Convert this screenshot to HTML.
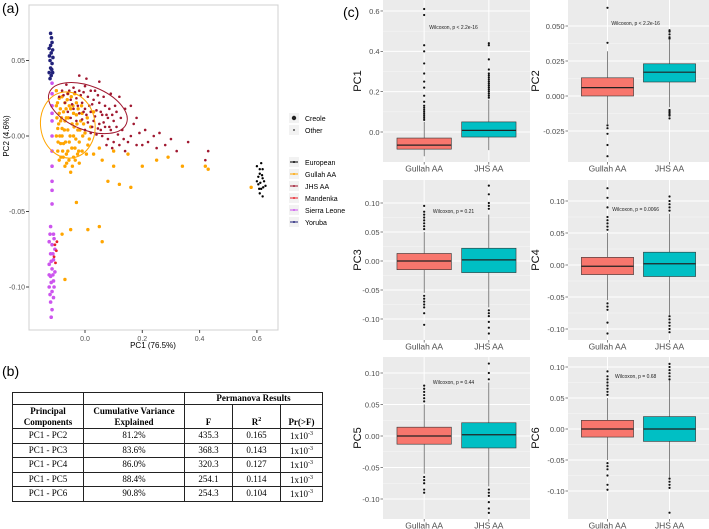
<!DOCTYPE html>
<html><head><meta charset="utf-8"><style>
html,body{margin:0;padding:0;background:#fff;}
body{width:709px;height:529px;overflow:hidden;position:relative;font-family:"Liberation Sans",sans-serif;}
table{border-collapse:collapse;font-family:"Liberation Serif",serif;font-size:9px;position:absolute;left:12px;top:392px;width:311px;}
td{border:1px solid #222;text-align:center;padding:0;height:13.5px;line-height:11px;}
th{border:1px solid #222;font-weight:bold;padding:0;line-height:11px;}
.lbl{position:absolute;font-size:14px;}
</style></head><body>
<div class="lbl" style="left:2px;top:0px;">(a)</div>
<div class="lbl" style="left:2px;top:363px;">(b)</div>
<div class="lbl" style="left:343px;top:4px;">(c)</div>
<svg id="sc" width="345" height="360" style="position:absolute;left:0;top:0"></svg>
<svg id="bx" width="360" height="529" style="position:absolute;left:349px;top:0"></svg>
<table>
<tr style="height:12px"><th style="height:11px"></th><th></th><th colspan="3">Permanova Results</th></tr>
<tr><th style="height:23px;width:70px">Principal<br>Components</th><th style="width:100px">Cumulative Variance<br>Explained</th><th style="width:47px;vertical-align:bottom">F</th><th style="width:47px;vertical-align:bottom">R<sup style="font-size:6px">2</sup></th><th style="vertical-align:bottom">Pr(&gt;F)</th></tr>
<tr><td>PC1 - PC2</td><td>81.2%</td><td>435.3</td><td>0.165</td><td>1x10<sup style="font-size:6px">-3</sup></td></tr>
<tr><td>PC1 - PC3</td><td>83.6%</td><td>368.3</td><td>0.143</td><td>1x10<sup style="font-size:6px">-3</sup></td></tr>
<tr><td>PC1 - PC4</td><td>86.0%</td><td>320.3</td><td>0.127</td><td>1x10<sup style="font-size:6px">-3</sup></td></tr>
<tr><td>PC1 - PC5</td><td>88.4%</td><td>254.1</td><td>0.114</td><td>1x10<sup style="font-size:6px">-3</sup></td></tr>
<tr><td>PC1 - PC6</td><td>90.8%</td><td>254.3</td><td>0.104</td><td>1x10<sup style="font-size:6px">-3</sup></td></tr>
</table>
<script>
const NS="http://www.w3.org/2000/svg";
function mk(p,t,a){const e=document.createElementNS(NS,t);for(const k in a)e.setAttribute(k,a[k]);p.appendChild(e);return e;}
// ---------- scatter data ----------
const xTicks=[0,0.2,0.4,0.6];
const xTickLabels=["0.0","0.2","0.4","0.6"];
const yTicks=[0.05,0,-0.05,-0.1];
const yTickLabels=["0.05","0.00","-0.05","-0.10"];
const groups=["European","Gullah AA","JHS AA","Mandenka","Sierra Leone","Yoruba"];
const groupColors=["#000000","#ffa500","#a01830","#e8202a","#cc55ee","#22227a"];
const european=[[0.6,-0.02],[0.61,-0.025],[0.62,-0.028],[0.605,-0.032],[0.615,-0.035],[0.625,-0.03],[0.61,-0.038],[0.62,-0.022],[0.6,-0.03],[0.63,-0.033],[0.615,-0.018],[0.62,-0.04],[0.605,-0.027],[0.612,-0.031],[0.618,-0.026],[0.608,-0.035],[0.622,-0.034],[0.61,-0.022]];
const gullah=[[-0.1,0.02],[-0.09,0.015],[-0.085,0.01],[-0.08,0.005],[-0.08,0],[-0.075,-0.005],[-0.07,0.022],[-0.065,0.012],[-0.06,0.004],[-0.055,-0.004],[-0.05,0.018],[-0.045,0.008],[-0.04,0],[-0.035,-0.008],[-0.03,0.014],[-0.025,0.004],[-0.02,-0.004],[-0.015,0.01],[-0.01,-0.01],[0,0.002],[0.01,-0.006],[0.02,0.006],[-0.095,-0.01],[-0.09,-0.016],[-0.07,-0.02],[-0.05,-0.024],[-0.02,-0.018],[0.03,-0.012],[0.06,-0.016],[0.1,-0.02],[0.08,-0.03],[0.12,-0.032],[0.16,-0.034],[0.2,-0.02],[0.25,-0.016],[0.29,-0.014],[0.34,-0.02],[0.42,-0.02],[0.43,-0.022],[0.58,-0.034],[0.05,-0.008],[0.1,-0.01],[0.15,-0.012],[0.03,0.016],[-0.06,0.028],[-0.08,0.026],[-0.04,-0.014],[-0.03,-0.044],[-0.05,-0.062],[0.01,-0.062],[0.05,-0.06],[0.06,-0.07],[-0.08,-0.065],[-0.07,-0.095],[-0.095,0.005],[-0.1,0.0],[-0.09,0.025],[-0.07,0.01],[-0.06,-0.01],[-0.04,0.015],[-0.075,0.016],[-0.055,0.02],[-0.085,-0.005],[-0.065,-0.012],[-0.03,0.022],[-0.01,0.015],
[-0.098,0.012],[-0.092,0.008],[-0.088,0.0],[-0.086,0.018],[-0.082,0.012],[-0.078,-0.01],[-0.072,0.004],[-0.068,-0.004],[-0.066,0.018],[-0.062,0.024],[-0.058,0.012],[-0.052,0.0],[-0.048,0.026],[-0.046,-0.008],[-0.042,0.02],[-0.038,0.006],[-0.036,0.028],[-0.032,-0.002],[-0.028,0.008],[-0.024,0.018],[-0.022,-0.01],[-0.018,0.004],[-0.012,0.02],[-0.008,0.0],[-0.005,0.008],[0.005,-0.012],[0.008,0.012],[0.015,-0.002],[-0.094,-0.004],[-0.084,-0.014],[-0.076,-0.014],[-0.064,-0.018],[-0.056,-0.016],[-0.044,-0.02],[-0.034,-0.016],[-0.026,-0.012],[-0.1,0.03],[-0.096,0.022]];
const jhs=[[-0.08,0.03],[-0.06,0.028],[-0.04,0.032],[-0.02,0.03],[0,0.033],[0.02,0.03],[-0.07,0.022],[-0.05,0.024],[-0.03,0.025],[-0.01,0.022],[0.01,0.026],[0.03,0.024],[0.05,0.022],[0.07,0.02],[-0.06,0.016],[-0.04,0.018],[-0.02,0.015],[0,0.018],[0.02,0.016],[0.04,0.017],[0.06,0.014],[0.08,0.012],[0.1,0.01],[-0.03,0.01],[-0.01,0.011],[0.01,0.009],[0.03,0.01],[0.05,0.008],[0.07,0.006],[0.09,0.004],[0.11,0.006],[0.13,0.004],[0,0.004],[0.02,0.002],[0.04,0.001],[0.06,0],[0.08,-0.002],[0.1,-0.004],[0.12,-0.006],[0.15,-0.004],[0.17,0.008],[0.19,0.002],[0.2,-0.006],[0.22,-0.004],[0.24,0],[0.25,-0.008],[0.28,-0.006],[0.3,-0.002],[0.36,-0.004],[0.43,-0.01],[0.42,-0.016],[0.14,0.018],[0.16,0.02],[0.12,0.026],[0.05,0.036],[-0.02,0.04],[0.09,0.028],[0.11,0.016],[0.18,0.012],[-0.09,0.026],[-0.05,0.012],[0.015,0.02],[0.035,0.013],[-0.015,0.027],[0.065,0.026],[0.085,0.018],
[-0.075,0.027],[-0.055,0.03],[-0.045,0.021],[-0.035,0.029],[-0.025,0.02],[-0.005,0.029],[0.005,0.014],[0.025,0.021],[0.045,0.027],[0.055,0.016],[0.075,0.014],[0.095,0.014],[0.105,0.02],[0.115,0.001],[0.125,0.012],[0.135,-0.002],[0.045,0.005],[0.065,0.009],[0.085,0.006],[0.025,0.006],[-0.005,0.016],[0.035,0.03],[0.055,0.004],[0.075,-0.006],[0.095,-0.008],[0.14,-0.01],[0.16,0.0],[0.18,-0.006],[0.21,0.004],[0.26,0.002],[0.32,-0.01],[0.005,0.038],[-0.065,0.034]];
const mandenka=[[-0.105,-0.072],[-0.1,-0.076],[-0.108,-0.08],[-0.098,-0.07],[-0.103,-0.084]];
const sierra=[[-0.115,0.035],[-0.115,0.028],[-0.115,0.02],[-0.115,0.015],[-0.115,0.01],[-0.115,0.0],[-0.115,-0.01],[-0.115,-0.02],[-0.115,-0.03],[-0.115,-0.036],[-0.115,-0.045],[-0.12,-0.06],[-0.11,-0.065],[-0.125,-0.07],[-0.115,-0.072],[-0.105,-0.075],[-0.12,-0.078],[-0.11,-0.082],[-0.125,-0.085],[-0.115,-0.088],[-0.105,-0.09],[-0.12,-0.093],[-0.11,-0.096],[-0.125,-0.1],[-0.115,-0.103],[-0.11,-0.107],[-0.12,-0.11],[-0.115,-0.115],[-0.118,-0.12],[-0.108,-0.068],[-0.122,-0.065],[-0.112,-0.092],[-0.118,-0.083],[-0.108,-0.1],[-0.122,-0.105],[-0.112,-0.078],[-0.125,-0.092],[-0.118,-0.097]];
const yoruba=[[-0.12,0.068],[-0.115,0.062],[-0.125,0.058],[-0.118,0.055],[-0.122,0.05],[-0.115,0.048],[-0.12,0.045],[-0.125,0.042],[-0.118,0.04],[-0.112,0.052],[-0.122,0.038],[-0.116,0.044],[-0.12,0.06],[-0.113,0.057],[-0.124,0.053],[-0.117,0.065],[-0.113,0.042]];
const ellipses=[{g:2,cx:0.01,cy:0.0185,rx:0.145,ry:0.0145,rot:22},{g:1,cx:-0.06,cy:0.0073,rx:0.095,ry:0.022,rot:-8}];
const sc=document.getElementById('sc');
const X0=29,X1=278,Y0=5,Y1=330;
function sx(v){return 85+v/0.2*57.3;}
function sy(v){return 136-v/0.05*75.5;}
const sp=mk(sc,'rect',{x:X0,y:Y0,width:X1-X0,height:Y1-Y0,fill:'#fff',stroke:'#d0d0d0','stroke-width':1});


xTicks.forEach((t,i)=>{mk(sc,'line',{x1:sx(t),x2:sx(t),y1:Y1,y2:Y1+3,stroke:'#444'});const tx=mk(sc,'text',{x:sx(t),y:Y1+11,'font-size':7,'text-anchor':'middle',fill:'#555'});tx.textContent=xTickLabels[i];

});
yTicks.forEach((t,i)=>{mk(sc,'line',{x1:X0-3,x2:X0,y1:sy(t),y2:sy(t),stroke:'#444'});const tx=mk(sc,'text',{x:X0-4,y:sy(t)+2.5,'font-size':7,'text-anchor':'end',fill:'#555'});tx.textContent=yTickLabels[i];

});
const xt=mk(sc,'text',{x:153,y:348,'font-size':8,'text-anchor':'middle'});xt.textContent='PC1 (76.5%)';


const yt=mk(sc,'text',{x:0,y:0,'font-size':8,'text-anchor':'middle',transform:'translate(9,136) rotate(-90)'});yt.textContent='PC2 (4.6%)';


function plot(arr,gi,r){arr.forEach(p=>{const c=mk(sc,'circle',{cx:sx(p[0]),cy:sy(p[1]),r:r,fill:groupColors[gi]});

});}
plot(sierra,4,1.8);plot(yoruba,5,1.8);plot(mandenka,3,1.4);plot(gullah,1,1.7);plot(jhs,2,1.3);plot(european,0,1.2);
ellipses.forEach(e=>{const el=mk(sc,'ellipse',{cx:sx(e.cx),cy:sy(e.cy),rx:e.rx/0.2*57.3,ry:e.ry/0.05*75.5,fill:'none',stroke:groupColors[e.g],'stroke-width':1,transform:`rotate(${e.rot} ${sx(e.cx)} ${sy(e.cy)})`});

});
const legA=[["Creole",2.2],["Other",0.9]];
legA.forEach((l,i)=>{const y=118+i*12;mk(sc,'rect',{x:289,y:y-5,width:10,height:10,fill:'#f2f2f2'});mk(sc,'circle',{cx:294,cy:y,r:l[1],fill:'#222'});const t=mk(sc,'text',{x:305,y:y+3,'font-size':7});t.textContent=l[0];

});
groups.forEach((g,i)=>{const y=162+i*12;mk(sc,'rect',{x:289,y:y-5,width:10,height:10,fill:'#f2f2f2'});mk(sc,'line',{x1:290,x2:298,y1:y,y2:y,stroke:groupColors[i],'stroke-width':1});mk(sc,'circle',{cx:294,cy:y,r:1,fill:groupColors[i]});const t=mk(sc,'text',{x:305,y:y+3,'font-size':7});t.textContent=g;

});
// ---------- boxplot data: [lowWhisker,q1,median,q3,highWhisker] ----------
const boxCats=["Gullah AA","JHS AA"];
const pc1G=[-0.12,-0.085,-0.065,-0.03,0.05],pc1J=[-0.09,-0.025,0.008,0.05,0.16];
const pc1GOut=[0.06,0.07,0.08,0.09,0.1,0.11,0.12,0.13,0.15,0.18,0.22,0.25,0.29,0.34,0.4,0.43,0.58,0.61],pc1JOut=[0.17,0.18,0.19,0.2,0.21,0.22,0.23,0.24,0.25,0.26,0.27,0.28,0.29,0.31,0.36,0.43,0.44];
const pc2G=[-0.02,0,0.006,0.013,0.032],pc2J=[-0.008,0.01,0.017,0.023,0.04];
const pc2GOut=[0.038,0.063,-0.021,-0.023,-0.027,-0.035,-0.043],pc2JOut=[0.041,0.042,0.044,0.046,0.047,-0.01,-0.011,-0.012,-0.013,-0.014,-0.016];
const pc3G=[-0.055,-0.015,0,0.013,0.05],pc3J=[-0.08,-0.02,0.002,0.022,0.08];
const pc3GOut=[0.055,0.06,0.065,0.07,0.075,0.08,0.085,0.095,-0.06,-0.065,-0.07,-0.075,-0.08,-0.09,-0.11],pc3JOut=[0.09,0.095,0.1,0.115,0.13,-0.085,-0.09,-0.095,-0.105,-0.115,-0.125];
const pc4G=[-0.055,-0.015,-0.002,0.012,0.05],pc4J=[-0.078,-0.018,0.002,0.02,0.08];
const pc4GOut=[0.055,0.06,0.065,0.07,0.075,0.09,0.105,0.12,-0.06,-0.065,-0.07,-0.09,-0.107],pc4JOut=[0.085,0.09,0.095,0.1,0.107,-0.08,-0.085,-0.09,-0.095,-0.1,-0.105];
const pc5G=[-0.06,-0.013,0,0.014,0.05],pc5J=[-0.08,-0.019,0.002,0.021,0.085];
const pc5GOut=[0.055,0.06,0.065,0.07,0.075,0.08,-0.065,-0.07,-0.075,-0.085,-0.09],pc5JOut=[0.09,0.1,0.115,-0.085,-0.09,-0.095,-0.105,-0.115,-0.122];
const pc6G=[-0.05,-0.013,0,0.014,0.05],pc6J=[-0.078,-0.02,0,0.02,0.078];
const pc6GOut=[0.055,0.06,0.065,0.07,0.075,0.08,0.085,0.093,-0.055,-0.06,-0.065,-0.075,-0.09,-0.098],pc6JOut=[0.08,0.085,0.09,0.095,0.1,0.105,-0.08,-0.085,-0.09,-0.095,-0.135];
const pValues=["p < 2.2e-16","p < 2.2e-16","p = 0.21","p = 0.0066","p = 0.44","p = 0.68"];
const ticksPC1=[0,0.2,0.4,0.6],labPC1=["0.0","0.2","0.4","0.6"];
const ticksPC2=[-0.025,0,0.025,0.05],labPC2=["-0.025","0.000","0.025","0.050"];
const ticksStd=[-0.1,-0.05,0,0.05,0.1],labStd=["-0.10","-0.05","0.00","0.05","0.10"];
const panels=[
{t:"PC1",g:pc1G,j:pc1J,go:pc1GOut,jo:pc1JOut,tk:ticksPC1,tl:labPC1,c:0,r:0,z:132,k:201.7,wy:29},
{t:"PC2",g:pc2G,j:pc2J,go:pc2GOut,jo:pc2JOut,tk:ticksPC2,tl:labPC2,c:1,r:0,z:96,k:1400,wy:25},
{t:"PC3",g:pc3G,j:pc3J,go:pc3GOut,jo:pc3JOut,tk:ticksStd,tl:labStd,c:0,r:1,z:261,k:580,wy:213},
{t:"PC4",g:pc4G,j:pc4J,go:pc4GOut,jo:pc4JOut,tk:ticksStd,tl:labStd,c:1,r:1,z:265,k:640,wy:211},
{t:"PC5",g:pc5G,j:pc5J,go:pc5GOut,jo:pc5JOut,tk:ticksStd,tl:labStd,c:0,r:2,z:436,k:630,wy:384},
{t:"PC6",g:pc6G,j:pc6J,go:pc6GOut,jo:pc6JOut,tk:ticksStd,tl:labStd,c:1,r:2,z:429,k:620,wy:378}];
const bx=document.getElementById('bx');const OX=349;
const cols=[[383,530],[568,709]],rows=[[0,162],[180,340],[357,519]];
const boxFill=["#f8766d","#00bfc4"];
panels.forEach((p,pi)=>{
 const [L,R]=cols[p.c].map(v=>v-OX),[T,B]=rows[p.r];
 const y=v=>p.z-v*p.k;
 const g=mk(bx,'g',{});
 
 
 mk(g,'rect',{x:L,y:T,width:R-L,height:B-T,fill:'#ebebeb'});
 for(let i=0;i<p.tk.length;i++){if(i<p.tk.length-1){const m=y((p.tk[i]+p.tk[i+1])/2);if(m>T&&m<B)mk(g,'line',{x1:L,x2:R,y1:m,y2:m,stroke:'#f7f7f7','stroke-width':0.5});}
  const yy=y(p.tk[i]);mk(g,'line',{x1:L,x2:R,y1:yy,y2:yy,stroke:'#fff','stroke-width':1});
  mk(g,'line',{x1:L-2.5,x2:L,y1:yy,y2:yy,stroke:'#333','stroke-width':0.6});
  const tx=mk(g,'text',{x:L-3.5,y:yy+2.8,'font-size':7.5,'text-anchor':'end',fill:'#4d4d4d'});tx.textContent=p.tl[i];
  
  }
 const w=R-L,cx=[L+w*0.28,L+w*0.72],bw=w*0.37;
 [[p.g,p.go],[p.j,p.jo]].forEach((d,k)=>{
  mk(g,'line',{x1:cx[k],x2:cx[k],y1:T,y2:B,stroke:'#fff','stroke-width':1});
  const s=d[0];
  mk(g,'line',{x1:cx[k],x2:cx[k],y1:y(s[0]),y2:y(s[4]),stroke:'#333','stroke-width':0.6});
  const b=mk(g,'rect',{x:cx[k]-bw/2,y:y(s[3]),width:bw,height:y(s[1])-y(s[3]),fill:boxFill[k],stroke:'#333','stroke-width':0.6});
  
  
  mk(g,'line',{x1:cx[k]-bw/2,x2:cx[k]+bw/2,y1:y(s[2]),y2:y(s[2]),stroke:'#222','stroke-width':1.2});
  d[1].forEach(o=>{const c=mk(g,'circle',{cx:cx[k],cy:y(o),r:1.1,fill:'#111'});
   
   });
  mk(g,'line',{x1:cx[k],x2:cx[k],y1:B,y2:B+2.5,stroke:'#333','stroke-width':0.6});
  const xl=mk(g,'text',{x:cx[k],y:B+9.3,'font-size':8.5,'text-anchor':'middle',fill:'#4d4d4d'});xl.textContent=boxCats[k];
  
  
 });
 const wt=mk(g,'text',{x:L+w*0.48,y:p.wy,'font-size':5,'text-anchor':'middle',fill:'#222'});
 wt.textContent='Wilcoxon, '+pValues[pi];
 
 
 const at=mk(g,'text',{x:0,y:0,'font-size':11,'text-anchor':'middle',fill:'#111',transform:`translate(${p.c==0?L-22:L-29},${(T+B)/2}) rotate(-90)`});at.textContent=p.t;
 
 
});
</script>
</body></html>
